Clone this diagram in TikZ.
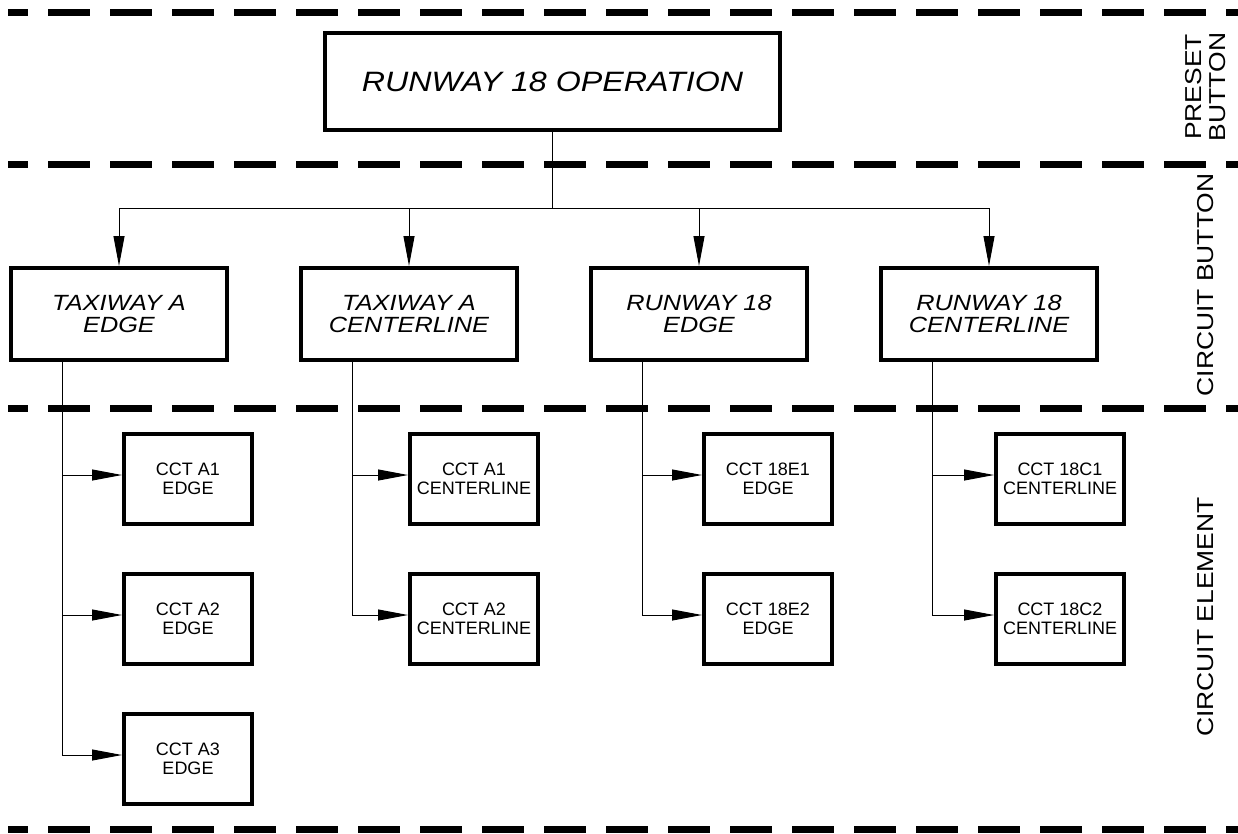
\documentclass[tikz,border=0pt]{standalone}
\usepackage{fontspec}
\setmainfont{Liberation Sans}
\newfontfamily\widefont[FakeStretch=1.15]{Liberation Sans}
\usetikzlibrary{arrows.meta, positioning}

\begin{document}
\begin{tikzpicture}[
x=1pt, y=-1pt,
node distance=70pt,
topbox/.style={draw, line width=4pt,
minimum width=455pt, minimum height=97pt,
font=\widefont\itshape\fontsize{28}{30}\selectfont},
btnbox/.style={draw, line width=4pt,
minimum width=216pt, minimum height=92pt,
align=center, font=\widefont\itshape\fontsize{22}{22}\selectfont},
cctbox/.style={draw, line width=4pt,
minimum width=128pt, minimum height=90pt,
align=center, font=\fontsize{18}{19}\selectfont},
side/.style={rotate=90, align=center,
font=\widefont\fontsize{23}{24}\selectfont},
link/.style={line width=1pt},
arrow/.style={-{Triangle[length=30pt, width=11pt]}, line width=1pt},
sep/.style={line width=7pt, dash pattern=on 42pt off 20pt, dash phase=22pt}
]
\useasboundingbox (0,0) rectangle (1238,833);

% zone separators
\foreach \y in {12,164,408,829}
\draw[sep] (8,\y) -- (1238,\y);

% preset button
\node[topbox] (preset) at (552.5,81.5) {RUNWAY 18 OPERATION};

% circuit buttons
\node[btnbox] (twedge) at (119,314) {TAXIWAY A\\EDGE};
\node[btnbox, right=of twedge] (twcl) {TAXIWAY A\\CENTERLINE};
\node[btnbox, right=of twcl] (rwedge) {RUNWAY 18\\EDGE};
\node[btnbox, right=of rwedge] (rwcl) {RUNWAY 18\\CENTERLINE};

% circuit elements
\node[cctbox] (a1) at (188,479) {CCT A1\\EDGE};
\node[cctbox, below=46pt of a1] (a2) {CCT A2\\EDGE};
\node[cctbox, below=46pt of a2] (a3) {CCT A3\\EDGE};
\node[cctbox] (ac1) at (474,479) {CCT A1\\CENTERLINE};
\node[cctbox, below=46pt of ac1] (ac2) {CCT A2\\CENTERLINE};
\node[cctbox] (e1) at (768,479) {CCT 18E1\\EDGE};
\node[cctbox, below=46pt of e1] (e2) {CCT 18E2\\EDGE};
\node[cctbox] (c1) at (1060,479) {CCT 18C1\\CENTERLINE};
\node[cctbox, below=46pt of c1] (c2) {CCT 18C2\\CENTERLINE};

% zone labels
\node[side] (lblpreset) at (1206,87) {PRESET\\BUTTON};
\node[side] (lblbutton) at (1206,285) {CIRCUIT BUTTON};
\node[side] (lblelement) at (1206,617) {CIRCUIT ELEMENT};

% connectors
\coordinate (bus) at (552.5,208);
\draw[link] (preset) -- (bus);
\foreach \b in {twedge,twcl,rwedge,rwcl}
\draw[arrow] (bus) -| (\b.north);
\foreach \b/\c in {twedge/a1, twedge/a2, twedge/a3, twcl/ac1, twcl/ac2,
rwedge/e1, rwedge/e2, rwcl/c1, rwcl/c2}
\draw[arrow] ([xshift=53pt]\b.south west) |- ([yshift=4pt]\c.west);

\end{tikzpicture}
\end{document}
